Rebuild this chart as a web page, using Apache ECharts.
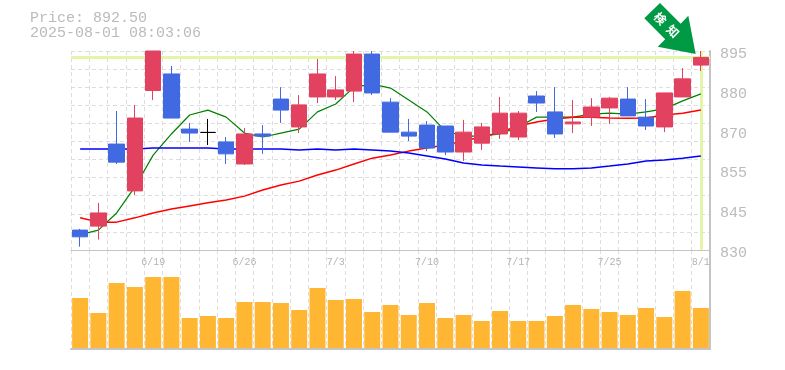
<!DOCTYPE html>
<html>
<head>
<meta charset="utf-8">
<style>html,body{margin:0;padding:0;background:#fff}#main{width:785px;height:370px}</style>
<script src="https://cdn.jsdelivr.net/npm/echarts@6/dist/echarts.min.js"></script>
</head>
<body>
<div id="main"></div>
<script>
const days = ["6/13","6/16","6/17","6/18","6/19","6/20","6/23","6/24","6/25","6/26","6/27","6/30","7/1","7/2","7/3","7/4","7/7","7/8","7/9","7/10","7/11","7/14","7/15","7/16","7/17","7/18","7/22","7/23","7/24","7/25","7/28","7/29","7/30","7/31","8/1"];
const opens = [836.5,837.8,864.6,849.3,882.1,887.5,869.5,868.4,865.3,858.1,867.9,879.3,870.2,880,880,881.9,894,878.3,868.5,870.8,870.5,862,864.9,867.9,866.9,880.3,875.1,871.2,873.4,876.4,879.3,873.4,870.2,880,890.4];
const closes = [834.3,842.1,858.7,873.1,895,873.1,868.2,868.4,861.4,867.9,867.2,875.7,877.4,887.5,882.3,894,881.3,868.5,867.2,863.3,862,868.5,870.2,874.7,874.7,878,867.9,871.8,876.7,879.6,873.8,870.5,881.3,885.9,892.9];
const lows = [831.1,833.4,858.1,848,879,873.1,865.3,864.3,858.1,857.8,861.4,871.5,868.2,878,879,878.3,880.6,868.5,865.6,862.3,861,859.1,862.7,866.3,865.9,875.1,866.6,868.2,870.5,871.2,873.8,869.2,868.5,880,888.5];
const highs = [836.9,845.4,875.4,877.4,895,890.1,871.5,872.8,866.9,869.8,870.8,883.2,880.6,892.4,886.8,895,895,879.6,872.8,872.1,870.5,872.5,871.5,880,875.4,881.9,883.2,879,879.6,880,883.2,879.3,881.3,889.4,895];
const maShort = [835,836.5,842.1,850.6,861,867.9,874.1,875.7,873.4,868.2,866.9,868.2,869.5,875.1,877.7,883.2,884.2,882.9,879,875.1,868.9,867.2,867.2,867.9,870.2,873.4,873.4,873.4,874.4,874.7,874.4,875.1,876.1,878.7,881];
const maMid = [840.5,839.1,839.1,840.5,842.1,843.4,844.4,845.4,846.3,847.6,849.6,851.2,852.5,854.5,856.1,858.1,860,861,862.3,863.3,864.3,865.6,866.9,868.5,870.5,871.8,872.8,873.4,873.4,873.1,873,873.1,874.1,874.7,875.7];
const maLong = [863,863,863,863,863.3,863.3,863.3,863.3,863,863,863,863,862.7,863,862.7,863,862.7,862.3,861.7,860.7,859.7,858.4,857.8,857.4,857.1,856.8,856.5,856.5,856.8,857.4,858.1,859.1,859.4,860,860.7];
const volumes = [50,35,65,61,71,71,30,32,30,46,46,45,38,60,48,49,36,43,33,45,30,33,27,37,27,27,32,43,39,36,33,40,31,57,40];
const lastPrice = 892.9;
const priceTicks = [830,843,856,869,882,895];
const priceLabels = ["830","845","855","870","880","895"];
const gridTicks = [830,835.91,841.82,847.73,853.64,859.55,865.45,871.36,877.27,883.18,889.09,895];

const GRID_COLOR = "#ddd";
const AXIS_COLOR = "#c4c4c4";
const TEXT_COLOR = "#bbb";
const MONO = "'Liberation Mono', monospace";
const dashed = { show: true, lineStyle: { color: GRID_COLOR, type: [4, 3], width: 1 } };

function maSeries(data, color, width) {
  return {
    type: "line", data: data, showSymbol: false, smooth: false, z: 3,
    lineStyle: { color: color, width: width }, silent: true
  };
}

const candles = days.map((d, i) => [opens[i], closes[i], lows[i], highs[i]]);

const options = {
  animation: false,
  backgroundColor: "#fff",
  grid: [
    { left: 71, right: 75, top: 51, height: 199 },
    { left: 71, right: 75, top: 250, height: 99 }
  ],
  xAxis: [
    {
      type: "category", data: days, gridIndex: 0, position: "bottom",
      axisLine: { lineStyle: { color: AXIS_COLOR, width: 1 } },
      axisTick: { show: false }, axisLabel: { show: false },
      splitLine: { ...dashed, interval: 0 }
    },
    {
      type: "category", data: days, gridIndex: 1, position: "top",
      axisLine: { show: false }, axisTick: { show: false },
      axisLabel: {
        inside: true, margin: 7, color: "#b4b4b4", fontFamily: MONO, fontSize: 10,
        interval: (i) => i % 5 === 4
      },
      splitLine: { ...dashed, interval: 0 }
    },
    {
      type: "category", data: days, gridIndex: 1, position: "bottom",
      axisLine: { lineStyle: { color: AXIS_COLOR, width: 2 } },
      axisTick: { show: false }, axisLabel: { show: false }, splitLine: { show: false }
    }
  ],
  yAxis: [
    {
      type: "value", gridIndex: 0, position: "right", min: 830, max: 895, scale: true,
      axisLine: { show: true, lineStyle: { color: AXIS_COLOR, width: 2 } },
      axisTick: { show: false, customValues: gridTicks },
      axisLabel: { show: false },
      splitLine: dashed
    },
    {
      type: "value", gridIndex: 0, position: "right", min: 830, max: 895, scale: true,
      axisLine: { show: false }, axisTick: { show: false }, splitLine: { show: false },
      axisLabel: {
        customValues: priceTicks, margin: 10, color: TEXT_COLOR, fontFamily: MONO, fontSize: 15,
        verticalAlign: "top", lineHeight: 6,
        formatter: (v) => priceLabels[priceTicks.indexOf(v)]
      }
    },
    {
      type: "value", gridIndex: 1, position: "right", min: -1, max: 98,
      axisLine: { show: true, lineStyle: { color: AXIS_COLOR, width: 2 } },
      axisTick: { show: false }, axisLabel: { show: false }, splitLine: { show: false }
    }
  ],
  series: [
    {
      type: "candlestick", data: candles, xAxisIndex: 0, yAxisIndex: 0, barWidth: 16, z: 4,
      itemStyle: {
        color: "#e2415f", color0: "#4169e1",
        borderColor: "#e2415f", borderColor0: "#4169e1", borderColorDoji: "#000", borderWidth: 1
      },
      markLine: {
        silent: true, symbol: "none", z: 1, label: { show: false },
        lineStyle: { color: "#e3f5a8", width: 3, type: "solid" },
        data: [{ yAxis: lastPrice }, { xAxis: days[days.length - 1] }]
      }
    },
    maSeries(maShort, "#008000", 1.2),
    maSeries(maMid, "#ff0000", 1.5),
    maSeries(maLong, "#0000ff", 1.5),
    {
      type: "bar", data: volumes, xAxisIndex: 1, yAxisIndex: 2, barWidth: 16,
      itemStyle: { color: "#ffb733" }, silent: true
    }
  ],
  graphic: [
    { type: "text", left: 30, top: 11, style: { text: "Price: 892.50", fill: TEXT_COLOR, font: "15px " + MONO } },
    { type: "text", left: 30, top: 26, style: { text: "2025-08-01 08:03:06", fill: TEXT_COLOR, font: "15px " + MONO } },
    {
      type: "polygon", z: 10,
      shape: { points: [[660, 3], [644.3, 18.3], [665.2, 39.2], [657.7, 46.7], [695.7, 54], [688.3, 15.7], [680.7, 23.7]] },
      style: { fill: "#009944" }
    },
    {
      type: "text", z: 11, x: 666.5, y: 25, rotation: -Math.PI / 4,
      style: { text: "検\u2002知", fill: "#fff", font: "bold 12px 'Noto Sans CJK JP'", align: "center", verticalAlign: "middle" }
    }
  ]
};

const myChart = echarts.init(document.querySelector("#main"));
myChart.setOption(options);
</script>
</body>
</html>
